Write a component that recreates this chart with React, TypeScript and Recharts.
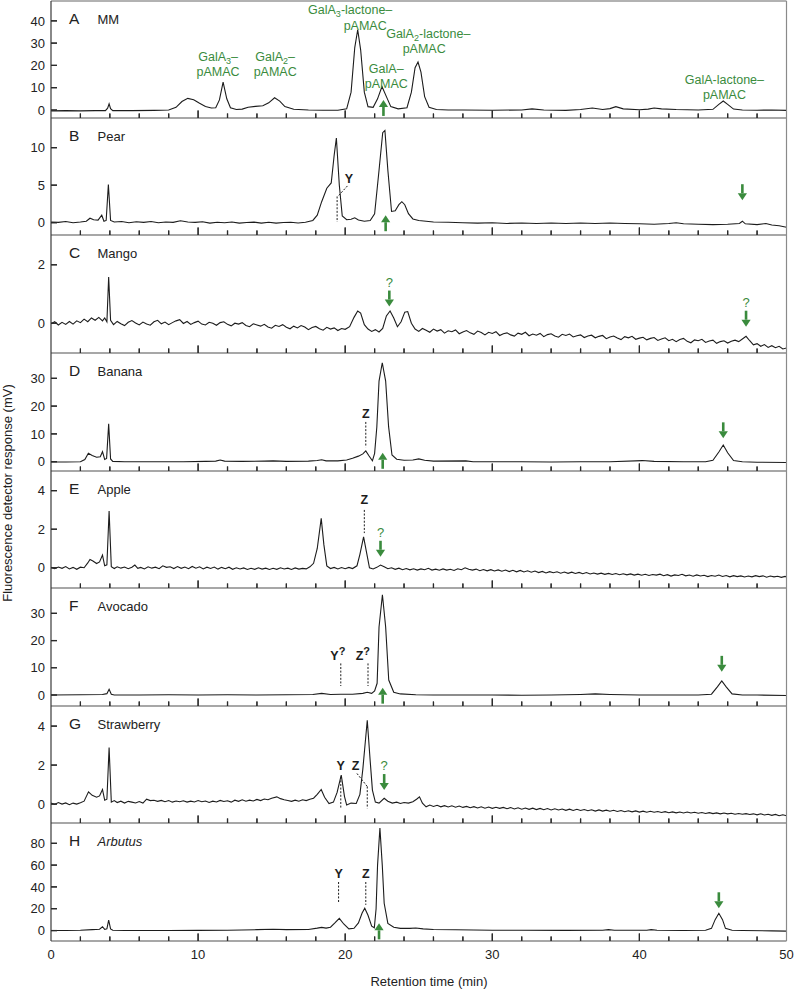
import React from 'react';
import { LineChart, Line, XAxis, YAxis, ReferenceLine, ReferenceDot } from 'recharts';

type Pt = [number, number];
type Arrow = { t: number; v: number; dir: 'up' | 'down'; q?: boolean };
type Mark = { t: number; v: number; text: string; q?: boolean };
type Seg = [number, number, number, number];
type GLabel = { t: number; v: number; main: string; sub?: string; rest?: string };

const timeTicks = [0, 2, 4, 6, 8, 10, 12, 14, 16, 18, 20, 22, 24, 26, 28, 30, 32, 34, 36, 38, 40, 42, 44, 46, 48, 50];
const majorTicks = [10, 20, 30, 40];
const timeLabels = [0, 10, 20, 30, 40, 50];

// A: MM (standards)
const mmTrace: Pt[] = [[0,-0.4],[1,-0.3],[2,-0.4],[3,-0.3],[3.7,-0.3],[3.85,0.8],[3.95,2.8],[4.05,0.6],[4.2,-0.3],[5.5,-0.3],[7,-0.2],[8.0,0],[8.5,1.2],[8.9,3.8],[9.3,5.2],[9.7,4.6],[10.1,3.0],[10.5,1.6],[10.9,0.9],[11.2,1.0],[11.45,4.5],[11.7,12.5],[11.95,5],[12.2,1],[12.6,0.2],[13,0.4],[13.4,1.2],[13.9,1.6],[14.4,1.9],[14.8,3.2],[15.2,5.5],[15.55,4.0],[15.9,1.5],[16.5,0.3],[17.5,0],[18.5,-0.1],[19.5,-0.1],[20.1,0.5],[20.4,8],[20.65,28],[20.85,36],[21.05,27],[21.3,8],[21.55,1.5],[21.9,1.2],[22.2,5],[22.5,10.5],[22.8,6],[23.1,1.5],[23.6,0.5],[24.2,1],[24.5,8],[24.75,19],[24.95,21.5],[25.15,17],[25.4,6],[25.7,1.2],[26.2,0.2],[27,0],[28,0],[30,-0.1],[32,0],[32.7,0.5],[33.5,0],[35,-0.2],[36,0.2],[36.8,0.9],[37.5,0.2],[38,0.6],[38.4,1.5],[38.9,0.5],[40,0.1],[40.6,0.4],[41,0.9],[41.5,0.5],[42.5,0.2],[44,0],[45,0.3],[45.4,2.5],[45.7,4],[46,2.5],[46.4,0.4],[47,0],[48,-0.1],[49,0],[50,-0.2]];

// B: Pear
const pearTrace: Pt[] = [[0,0.1],[0.5,0.05],[1,0.15],[1.5,0.0],[2,0.1],[2.4,0.2],[2.65,0.6],[2.9,0.4],[3.2,0.35],[3.45,1.0],[3.6,0.2],[3.75,0.3],[3.9,5.1],[4.05,0.3],[4.3,0.1],[4.8,0.15],[5.3,0.0],[5.8,0.12],[6.3,0.05],[6.8,0.15],[7.3,0.0],[7.8,0.1],[8.3,0.05],[8.8,0.25],[9.3,0.1],[9.8,0.05],[10.3,0.12],[10.8,-0.05],[11.3,0.05],[11.8,0.0],[12.3,0.1],[12.8,-0.05],[13.3,0.02],[13.8,0.08],[14.3,-0.05],[14.8,0.05],[15.3,-0.05],[15.8,0.02],[16.3,0.06],[16.8,-0.04],[17.3,0.05],[17.8,0.3],[18.1,1.0],[18.4,2.8],[18.75,4.6],[19.05,5.3],[19.25,9],[19.4,11.3],[19.6,5],[19.8,0.9],[20.1,0.4],[20.4,0.45],[20.65,0.65],[20.9,0.35],[21.3,0.2],[21.7,0.3],[22.0,1.2],[22.3,7],[22.55,12],[22.7,12.3],[22.9,7],[23.15,1.5],[23.4,1.6],[23.65,2.4],[23.85,2.8],[24.05,2.4],[24.3,1.2],[24.6,0.5],[25,0.3],[25.5,0.2],[26,0.1],[27,0.05],[28,0.0],[29,-0.05],[30,0.0],[31,-0.1],[32,-0.05],[33,-0.1],[34,-0.05],[35,-0.1],[36,-0.05],[37,-0.1],[38,-0.05],[39,-0.1],[40,-0.15],[41,-0.2],[42,-0.1],[42.5,0.0],[43,-0.15],[44,-0.2],[45,-0.25],[46,-0.2],[46.8,-0.1],[47.0,0.2],[47.2,-0.15],[48,-0.25],[48.6,-0.1],[49,-0.3],[49.5,-0.4],[50,-0.6]];

// C: Mango
const mangoTrace: Pt[] = [[0,-0.02],[0.25,0.05],[0.5,-0.06],[0.75,0.03],[1,-0.04],[1.25,0.06],[1.5,-0.03],[1.75,0.08],[2,0.02],[2.25,0.14],[2.5,0.05],[2.75,0.18],[3,0.1],[3.25,0.2],[3.5,0.08],[3.65,0.18],[3.8,0.05],[3.92,1.58],[4.05,0.1],[4.25,-0.05],[4.5,0.06],[4.75,-0.02],[5,-0.08],[5.25,0.03],[5.5,0.09],[5.75,0.01],[6,-0.06],[6.25,0.04],[6.5,-0.03],[6.75,-0.07],[7,0.05],[7.25,0.1],[7.5,-0.02],[7.75,0.04],[8,-0.05],[8.25,0.02],[8.5,0.08],[8.75,0.12],[9,-0.01],[9.25,0.06],[9.5,-0.04],[9.75,0.02],[10,0.07],[10.25,-0.03],[10.5,-0.06],[10.75,0.03],[11,0],[11.25,-0.07],[11.5,0.02],[11.75,0.05],[12,-0.04],[12.25,-0.09],[12.5,0],[12.75,-0.03],[13,0.02],[13.25,-0.08],[13.5,-0.12],[13.75,-0.02],[14,-0.06],[14.25,-0.1],[14.5,-0.04],[14.75,-0.13],[15,-0.17],[15.25,-0.07],[15.5,-0.11],[15.75,-0.05],[16,-0.14],[16.25,-0.19],[16.5,-0.1],[16.75,-0.16],[17,-0.08],[17.25,-0.13],[17.5,-0.22],[17.75,-0.15],[18,-0.11],[18.25,-0.19],[18.5,-0.24],[18.75,-0.14],[19,-0.2],[19.25,-0.16],[19.5,-0.25],[19.75,-0.18],[20,-0.21],[20.3,-0.12],[20.6,0.2],[20.85,0.42],[21.05,0.35],[21.3,-0.05],[21.55,-0.2],[21.8,-0.28],[22.05,-0.22],[22.3,-0.3],[22.55,-0.18],[22.8,0.25],[23.05,0.42],[23.3,0.18],[23.55,-0.12],[23.8,0.05],[24.05,0.38],[24.25,0.4],[24.5,0],[24.75,-0.2],[25,-0.28],[25.25,-0.18],[25.5,-0.24],[25.75,-0.31],[26,-0.2],[26.25,-0.27],[26.5,-0.22],[26.75,-0.34],[27,-0.26],[27.25,-0.29],[27.5,-0.23],[27.75,-0.36],[28,-0.3],[28.25,-0.25],[28.5,-0.33],[28.75,-0.38],[29,-0.27],[29.25,-0.32],[29.5,-0.4],[29.75,-0.31],[30,-0.35],[30.25,-0.29],[30.5,-0.42],[30.75,-0.36],[31,-0.33],[31.25,-0.4],[31.5,-0.44],[31.75,-0.34],[32,-0.38],[32.25,-0.31],[32.5,-0.43],[32.75,-0.37],[33,-0.41],[33.25,-0.35],[33.5,-0.46],[33.75,-0.39],[34,-0.36],[34.25,-0.44],[34.5,-0.48],[34.75,-0.38],[35,-0.42],[35.25,-0.37],[35.5,-0.47],[35.75,-0.43],[36,-0.4],[36.25,-0.49],[36.5,-0.44],[36.75,-0.41],[37,-0.5],[37.25,-0.45],[37.5,-0.42],[37.75,-0.53],[38,-0.47],[38.25,-0.44],[38.5,-0.51],[38.75,-0.56],[39,-0.46],[39.25,-0.5],[39.5,-0.45],[39.75,-0.55],[40,-0.51],[40.25,-0.48],[40.5,-0.57],[40.75,-0.52],[41,-0.49],[41.25,-0.59],[41.5,-0.54],[41.75,-0.5],[42,-0.6],[42.25,-0.55],[42.5,-0.63],[42.75,-0.56],[43,-0.52],[43.25,-0.62],[43.5,-0.67],[43.75,-0.57],[44,-0.6],[44.25,-0.55],[44.5,-0.66],[44.75,-0.61],[45,-0.58],[45.25,-0.69],[45.5,-0.63],[45.75,-0.6],[46,-0.68],[46.25,-0.62],[46.5,-0.58],[46.75,-0.63],[47,-0.54],[47.25,-0.45],[47.5,-0.6],[47.75,-0.74],[48,-0.7],[48.25,-0.79],[48.5,-0.73],[48.75,-0.83],[49,-0.77],[49.25,-0.84],[49.5,-0.79],[49.75,-0.88],[50,-0.85]];

// D: Banana
const bananaTrace: Pt[] = [[0,-0.1],[1,-0.1],[2,0],[2.3,0.8],[2.54,3.0],[2.8,2.2],[3.1,1.6],[3.35,1.8],[3.5,3.6],[3.65,0.8],[3.78,1.2],[3.92,13.6],[4.05,1.0],[4.2,0.1],[5,0],[7,0],[9,0],[10.5,0.1],[11.2,0.2],[11.5,0.6],[11.8,0.2],[13,0.1],[14.5,0.2],[15.1,0.3],[16,0.1],[17.5,0.2],[18.1,0.4],[18.4,0.7],[18.7,0.3],[19.5,0.3],[20.1,0.6],[20.5,1.2],[20.9,2.0],[21.2,2.8],[21.4,3.9],[21.6,2.2],[21.85,0.3],[22.0,3],[22.15,12.5],[22.3,29],[22.52,35.6],[22.75,29],[22.95,12.6],[23.18,2.4],[23.5,0.9],[24,0.5],[24.6,0.6],[25.0,1.0],[25.4,0.5],[26,0.2],[28.2,0.3],[28.7,0],[30,0],[32,0],[34,-0.1],[36,0],[38,0],[40.2,0.4],[41,0.1],[43,0],[44.5,0],[45.0,0.5],[45.4,3.5],[45.7,6.0],[46.0,3.2],[46.4,0.4],[47,0],[48,-0.2],[50,-0.3]];

// E: Apple
const appleTrace: Pt[] = [[0,0.02],[0.25,-0.05],[0.5,0.04],[0.75,-0.03],[1,0.06],[1.25,-0.06],[1.5,0.02],[1.75,-0.08],[2,0.03],[2.25,0],[2.5,0.25],[2.65,0.43],[2.85,0.35],[3.1,0.22],[3.3,0.3],[3.5,0.66],[3.65,0.1],[3.8,0.15],[3.95,2.95],[4.1,0.05],[4.3,-0.04],[4.5,0.05],[4.75,-0.02],[5,0.04],[5.25,-0.05],[5.5,0.03],[5.7,0.14],[5.9,-0.03],[6.1,0.02],[6.35,-0.06],[6.6,0.05],[6.85,-0.02],[7.1,0.03],[7.35,-0.05],[7.6,0.1],[7.85,0.02],[8.1,0.05],[8.35,-0.04],[8.6,0.06],[8.85,-0.03],[9.1,0.04],[9.35,-0.05],[9.6,0.07],[9.85,-0.02],[10.1,0.05],[10.35,-0.06],[10.6,0.03],[10.85,-0.04],[11.1,0.04],[11.35,-0.07],[11.6,0.02],[11.85,-0.05],[12.1,0.03],[12.35,-0.08],[12.6,0],[12.85,-0.06],[13.1,-0.01],[13.35,-0.09],[13.6,-0.03],[13.85,-0.08],[14.1,0],[14.35,-0.07],[14.6,-0.02],[14.85,-0.09],[15.1,-0.03],[15.35,-0.08],[15.6,0],[15.85,-0.06],[16.1,-0.02],[16.35,-0.09],[16.6,-0.01],[16.85,-0.07],[17.1,-0.03],[17.35,-0.06],[17.6,0.05],[17.85,0.23],[18.1,1.0],[18.37,2.56],[18.55,1.2],[18.75,0.1],[19,-0.04],[19.25,0.02],[19.5,-0.06],[19.75,0.01],[20,-0.05],[20.25,0.02],[20.5,-0.04],[20.8,0.1],[21,0.7],[21.25,1.6],[21.45,0.8],[21.65,0],[21.9,-0.06],[22.15,0.02],[22.4,0.14],[22.65,0.05],[22.9,-0.05],[23.15,0],[23.4,-0.08],[23.65,-0.02],[23.9,-0.1],[24.15,-0.04],[24.4,-0.11],[24.65,-0.05],[24.9,-0.12],[25.15,-0.06],[25.4,-0.1],[25.65,-0.03],[25.9,-0.12],[26.15,-0.07],[26.4,-0.13],[26.65,-0.06],[26.9,-0.12],[27.15,-0.08],[27.4,-0.14],[27.65,-0.05],[27.9,-0.1],[28.15,0],[28.4,-0.08],[28.65,-0.12],[28.9,-0.07],[29.15,-0.15],[29.4,-0.09],[29.65,-0.16],[29.9,-0.1],[30.15,-0.17],[30.4,-0.11],[30.65,-0.18],[30.9,-0.12],[31.15,-0.2],[31.4,-0.13],[31.65,-0.21],[31.9,-0.14],[32.15,-0.22],[32.4,-0.16],[32.65,-0.23],[32.9,-0.17],[33.15,-0.25],[33.4,-0.19],[33.65,-0.27],[33.9,-0.2],[34.15,-0.26],[34.4,-0.21],[34.65,-0.28],[34.9,-0.22],[35.15,-0.29],[35.4,-0.23],[35.65,-0.3],[35.9,-0.24],[36.15,-0.31],[36.4,-0.25],[36.65,-0.32],[36.9,-0.27],[37.15,-0.33],[37.4,-0.28],[37.65,-0.34],[37.9,-0.29],[38.15,-0.35],[38.4,-0.3],[38.65,-0.36],[38.9,-0.31],[39.15,-0.37],[39.4,-0.32],[39.65,-0.38],[39.9,-0.33],[40.15,-0.39],[40.4,-0.34],[40.65,-0.4],[40.9,-0.35],[41.15,-0.38],[41.4,-0.33],[41.65,-0.41],[41.9,-0.36],[42.15,-0.43],[42.4,-0.37],[42.65,-0.4],[42.9,-0.34],[43.15,-0.42],[43.4,-0.38],[43.65,-0.44],[43.9,-0.37],[44.15,-0.43],[44.4,-0.39],[44.65,-0.46],[44.9,-0.4],[45.15,-0.44],[45.4,-0.38],[45.65,-0.45],[45.9,-0.4],[46.15,-0.47],[46.4,-0.41],[46.65,-0.46],[46.9,-0.42],[47.15,-0.48],[47.4,-0.43],[47.65,-0.47],[47.9,-0.41],[48.15,-0.46],[48.4,-0.42],[48.65,-0.49],[48.9,-0.43],[49.15,-0.47],[49.4,-0.44],[49.65,-0.5],[49.9,-0.45],[50,-0.47]];

// F: Avocado
const avocadoTrace: Pt[] = [[0,0],[2,0.1],[3.5,0.2],[3.8,0.5],[3.95,2.1],[4.1,0.3],[4.3,0],[6,0],[8,0.1],[10,0],[12,0.1],[14,0],[16,0.1],[17.8,0.2],[18.4,0.6],[19,0.2],[19.7,0.3],[20.5,0.3],[21.2,0.6],[21.5,1.0],[21.8,0.6],[22.0,1.5],[22.17,4.3],[22.3,25],[22.53,36.8],[22.75,25],[22.96,5.5],[23.3,1.0],[23.75,0.4],[24.8,0.1],[26,0],[28,0],[30,0],[32,-0.1],[34,0],[36,0.2],[37,0.4],[38,0.2],[40,0],[42,0],[44,0],[44.9,0.3],[45.3,3],[45.6,5.2],[45.9,3],[46.3,0.4],[47,0],[48,0],[50,-0.2]];

// G: Strawberry
const strawberryTrace: Pt[] = [[0,0.05],[0.25,-0.02],[0.5,0.08],[0.75,0],[1,0.06],[1.25,-0.03],[1.5,0.05],[1.75,0],[2,0.07],[2.25,0.15],[2.55,0.63],[2.8,0.45],[3.1,0.35],[3.3,0.42],[3.5,0.75],[3.65,0.2],[3.8,0.25],[3.95,2.9],[4.1,0.1],[4.3,0.18],[4.5,0.08],[4.75,0.15],[5,0.05],[5.25,0.14],[5.5,0.1],[5.75,0.06],[6,0.13],[6.25,0.05],[6.5,0.25],[6.75,0.18],[7,0.2],[7.25,0.14],[7.5,0.19],[7.75,0.12],[8,0.18],[8.25,0.1],[8.5,0.16],[8.75,0.12],[9,0.17],[9.25,0.1],[9.5,0.15],[9.75,0.11],[10,0.18],[10.25,0.12],[10.5,0.16],[10.75,0.08],[11,0.15],[11.25,0.11],[11.5,0.19],[11.75,0.13],[12,0.17],[12.25,0.1],[12.5,0.2],[12.75,0.14],[13,0.22],[13.25,0.15],[13.5,0.2],[13.75,0.16],[14,0.24],[14.25,0.18],[14.5,0.26],[14.75,0.22],[15,0.3],[15.35,0.37],[15.6,0.28],[15.85,0.22],[16.1,0.18],[16.35,0.14],[16.6,0.2],[16.85,0.15],[17.1,0.22],[17.35,0.18],[17.6,0.25],[17.85,0.3],[18.1,0.5],[18.37,0.75],[18.6,0.35],[18.9,0.03],[19.2,0.1],[19.45,0.6],[19.73,1.49],[19.95,0.4],[20.1,-0.05],[20.4,0.05],[20.75,0.03],[21,0.5],[21.2,1.8],[21.5,4.3],[21.7,2.2],[21.85,0.72],[22.05,0.1],[22.3,0.05],[22.65,0.3],[22.9,0.15],[23.2,0.05],[23.5,0.1],[23.75,0.03],[24,0.08],[24.3,0.05],[24.6,0.12],[24.85,0.25],[25.05,0.37],[25.25,0.05],[25.5,-0.14],[25.75,-0.05],[26,-0.12],[26.25,-0.06],[26.5,-0.14],[26.75,-0.08],[27,-0.15],[27.25,-0.09],[27.5,-0.16],[27.75,-0.1],[28,-0.17],[28.25,-0.12],[28.5,-0.19],[28.75,-0.13],[29,-0.2],[29.25,-0.14],[29.5,-0.21],[29.75,-0.15],[30,-0.22],[30.25,-0.16],[30.5,-0.22],[30.75,-0.17],[31,-0.24],[31.25,-0.18],[31.5,-0.25],[31.75,-0.19],[32,-0.26],[32.25,-0.2],[32.5,-0.27],[32.75,-0.21],[33,-0.28],[33.25,-0.22],[33.5,-0.29],[33.75,-0.23],[34,-0.3],[34.25,-0.24],[34.5,-0.3],[34.75,-0.25],[35,-0.32],[35.25,-0.26],[35.5,-0.33],[35.75,-0.27],[36,-0.33],[36.25,-0.28],[36.5,-0.34],[36.75,-0.29],[37,-0.36],[37.25,-0.3],[37.5,-0.36],[37.75,-0.31],[38,-0.37],[38.25,-0.32],[38.5,-0.38],[38.75,-0.33],[39,-0.39],[39.25,-0.34],[39.5,-0.4],[39.75,-0.35],[40,-0.41],[40.25,-0.36],[40.5,-0.42],[40.75,-0.37],[41,-0.42],[41.25,-0.38],[41.5,-0.43],[41.75,-0.39],[42,-0.44],[42.25,-0.4],[42.5,-0.45],[42.75,-0.41],[43,-0.46],[43.25,-0.41],[43.5,-0.46],[43.75,-0.42],[44,-0.47],[44.25,-0.43],[44.5,-0.48],[44.75,-0.44],[45,-0.49],[45.25,-0.45],[45.5,-0.5],[45.75,-0.46],[46,-0.5],[46.25,-0.47],[46.5,-0.52],[46.75,-0.48],[47,-0.52],[47.25,-0.49],[47.5,-0.53],[47.75,-0.5],[48,-0.55],[48.25,-0.5],[48.5,-0.56],[48.75,-0.52],[49,-0.58],[49.25,-0.53],[49.5,-0.6],[49.75,-0.55],[50,-0.6]];

// H: Arbutus
const arbutusTrace: Pt[] = [[0,0],[1,0],[2,0.2],[2.8,0.8],[3.3,1.2],[3.5,3.5],[3.65,1.0],[3.8,1.5],[3.92,9.6],[4.05,1.5],[4.2,0.3],[5,0],[8,0],[10,0.1],[12,0.3],[14,0.8],[15.1,1.2],[16,0.8],[17.5,1.0],[18.1,2.2],[18.4,2.9],[18.7,2.2],[19.0,3.0],[19.3,7],[19.6,11.2],[19.9,6],[20.25,1.5],[20.6,2.0],[20.9,7],[21.15,16],[21.33,20.4],[21.55,14],[21.8,4],[21.98,2.5],[22.1,20],[22.2,60],[22.36,94],[22.52,60],[22.65,25],[22.9,6.6],[23.3,3],[23.75,2],[24.4,2],[24.8,2.3],[25.3,1.5],[26,1],[27.5,0.7],[30,0.3],[32,0.2],[35,0.1],[37.5,0.3],[37.9,0.8],[38.3,0.2],[40.5,0.3],[40.8,0.8],[41.2,0.2],[43,0],[44.5,0.3],[44.9,2],[45.15,10],[45.4,15.8],[45.65,10],[45.85,2],[46.3,0.3],[47,0],[49,-0.3],[50,-0.5]];

// Annotations (data coordinates)
const mmLabels: GLabel[] = [
  { t: 11.36, v: 22.0, main: 'GalA', sub: '3', rest: '–' },
  { t: 11.36, v: 15.05, main: 'pAMAC' },
  { t: 15.24, v: 22.0, main: 'GalA', sub: '2', rest: '–' },
  { t: 15.24, v: 15.05, main: 'pAMAC' },
  { t: 20.34, v: 43.0, main: 'GalA', sub: '3', rest: '-lactone–' },
  { t: 21.36, v: 36.05, main: 'pAMAC' },
  { t: 22.79, v: 16.6, main: 'GalA–' },
  { t: 22.79, v: 9.65, main: 'pAMAC' },
  { t: 25.65, v: 32.3, main: 'GalA', sub: '2', rest: '-lactone–' },
  { t: 25.37, v: 25.35, main: 'pAMAC' },
  { t: 45.78, v: 11.7, main: 'GalA-lactone–' },
  { t: 45.78, v: 4.75, main: 'pAMAC' },
];

const mmArrows: Arrow[] = [{ t: 22.6, v: 4.5, dir: 'up' }];
const pearArrows: Arrow[] = [{ t: 22.75, v: 1.0, dir: 'up' }, { t: 47.0, v: 3.0, dir: 'down' }];
const mangoArrows: Arrow[] = [{ t: 23.0, v: 0.57, dir: 'down', q: true }, { t: 47.25, v: -0.12, dir: 'down', q: true }];
const bananaArrows: Arrow[] = [{ t: 22.55, v: 3.2, dir: 'up' }, { t: 45.7, v: 8.4, dir: 'down' }];
const appleArrows: Arrow[] = [{ t: 22.4, v: 0.57, dir: 'down', q: true }];
const avocadoArrows: Arrow[] = [{ t: 22.55, v: 2.7, dir: 'up' }, { t: 45.6, v: 8.5, dir: 'down' }];
const strawberryArrows: Arrow[] = [{ t: 22.65, v: 0.72, dir: 'down', q: true }];
const arbutusArrows: Arrow[] = [{ t: 22.3, v: 6.6, dir: 'up' }, { t: 45.4, v: 20.4, dir: 'down' }];

const pearMarks: Mark[] = [{ t: 20.25, v: 5.3, text: 'Y' }];
const bananaMarks: Mark[] = [{ t: 21.4, v: 15.8, text: 'Z' }];
const appleMarks: Mark[] = [{ t: 21.3, v: 3.3, text: 'Z' }];
const avocadoMarks: Mark[] = [{ t: 19.5, v: 12.9, text: 'Y', q: true }, { t: 21.2, v: 12.9, text: 'Z', q: true }];
const strawberryMarks: Mark[] = [{ t: 19.7, v: 1.75, text: 'Y' }, { t: 20.7, v: 1.75, text: 'Z' }];
const arbutusMarks: Mark[] = [{ t: 19.55, v: 48, text: 'Y' }, { t: 21.4, v: 48, text: 'Z' }];

const pearSegs: Seg[] = [[20.15, 4.9, 19.5, 3.5], [19.45, 3.5, 19.45, 0.1]];
const bananaSegs: Seg[] = [[21.4, 14.3, 21.4, 5.2]];
const appleSegs: Seg[] = [[21.3, 3.0, 21.3, 1.8]];
const avocadoSegs: Seg[] = [[19.7, 11.6, 19.7, 3.3], [21.55, 11.6, 21.55, 3.3]];
const strawberrySegs: Seg[] = [[19.7, 1.4, 19.7, -0.22], [20.8, 1.57, 21.5, 0.9], [21.5, 0.9, 21.5, -0.22]];
const arbutusSegs: Seg[] = [[19.55, 44.5, 19.55, 25], [21.4, 44.5, 21.4, 23.5]];

const GREEN = '#3a8b3d';
const INK = '#1c1c1c';
const TICK = '#2a2a2a';
const FONT = '"Liberation Sans", Arial, Helvetica, sans-serif';

type Panel = {
  letter: string; name: string; italic?: boolean; top: number; bottom: number;
  domain: [number, number]; ticks: number[]; trace: Pt[];
  arrows: Arrow[]; marks: Mark[]; segs: Seg[]; labels: GLabel[];
};

const panels: Panel[] = [
  { letter: 'A', name: 'MM', top: 1, bottom: 118, domain: [-3.6, 48.9], ticks: [0, 10, 20, 30, 40], trace: mmTrace, arrows: mmArrows, marks: [], segs: [], labels: mmLabels },
  { letter: 'B', name: 'Pear', top: 118, bottom: 235, domain: [-1.64, 13.96], ticks: [0, 5, 10], trace: pearTrace, arrows: pearArrows, marks: pearMarks, segs: pearSegs, labels: [] },
  { letter: 'C', name: 'Mango', top: 235, bottom: 353, domain: [-1.02, 3.02], ticks: [0, 2], trace: mangoTrace, arrows: mangoArrows, marks: [], segs: [], labels: [] },
  { letter: 'D', name: 'Banana', top: 353, bottom: 471, domain: [-3.35, 39.1], ticks: [0, 10, 20, 30], trace: bananaTrace, arrows: bananaArrows, marks: bananaMarks, segs: bananaSegs, labels: [] },
  { letter: 'E', name: 'Apple', top: 471, bottom: 588, domain: [-1.05, 5.02], ticks: [0, 2, 4], trace: appleTrace, arrows: appleArrows, marks: appleMarks, segs: appleSegs, labels: [] },
  { letter: 'F', name: 'Avocado', top: 588, bottom: 706, domain: [-4.04, 39.3], ticks: [0, 10, 20, 30], trace: avocadoTrace, arrows: avocadoArrows, marks: avocadoMarks, segs: avocadoSegs, labels: [] },
  { letter: 'G', name: 'Strawberry', top: 706, bottom: 823, domain: [-0.97, 5.03], ticks: [0, 2, 4], trace: strawberryTrace, arrows: strawberryArrows, marks: strawberryMarks, segs: strawberrySegs, labels: [] },
  { letter: 'H', name: 'Arbutus', italic: true, top: 823, bottom: 941, domain: [-9.6, 98.6], ticks: [0, 20, 40, 60, 80], trace: arbutusTrace, arrows: arbutusArrows, marks: arbutusMarks, segs: arbutusSegs, labels: [] },
];

const PAD = 4;
const LAB_H = 30;
const AXIS_H = 2;

// Labels under the last panel only
const timeTick = (withLabels: boolean) => (props: any) => {
  const { x, y, payload } = props;
  const v = payload && payload.value;
  if (!withLabels || timeLabels.indexOf(v) < 0) return <g />;
  return <text x={x} y={y + 17.5} textAnchor="middle" fontSize={13} fill="#222" fontFamily={FONT}>{v}</text>;
};

const valueTick = (props: any) => {
  const { x, y, payload } = props;
  return <text x={x - 6} y={y} dy="0.36em" textAnchor="end" fontSize={13} fill="#222" fontFamily={FONT}>{payload.value}</text>;
};

// Inward tick marks drawn as dots of invisible series, placed through the chart's scales
const xTickDot = (props: any) => {
  const { cx, cy, payload, index } = props;
  if (cx == null || cy == null) return <g key={`xd${index}`} />;
  const len = majorTicks.indexOf(payload.t) >= 0 ? 7.5 : 4.5;
  return <path key={`xd${index}`} d={`M${cx},${cy}V${cy - len}`} stroke={TICK} strokeWidth={1.2} fill="none" />;
};

const yTickDot = (props: any) => {
  const { cx, cy, index } = props;
  if (cx == null || cy == null) return <g key={`yd${index}`} />;
  return <path key={`yd${index}`} d={`M${cx},${cy}H${cx + 6}`} stroke={TICK} strokeWidth={1.2} fill="none" />;
};

const xTickMark = (v: number) => (props: any) => {
  const { cx, cy } = props;
  if (cx == null || cy == null) return <g />;
  const len = majorTicks.indexOf(v) >= 0 ? 7.5 : 4.5;
  return <path d={`M${cx},${cy}V${cy - len}`} stroke={TICK} strokeWidth={1.2} fill="none" />;
};

const yTickMark = (props: any) => {
  const { cx, cy } = props;
  if (cx == null || cy == null) return <g />;
  return <path d={`M${cx},${cy}H${cx + 6}`} stroke={TICK} strokeWidth={1.2} fill="none" />;
};

const arrowShape = (a: Arrow) => (props: any) => {
  const { cx, cy } = props;
  if (cx == null || cy == null) return <g />;
  const s = a.dir === 'down' ? -1 : 1;
  const tail = cy + s * 16;
  const headBase = cy + s * 7;
  return (
    <g>
      <line x1={cx} y1={tail} x2={cx} y2={headBase} stroke={GREEN} strokeWidth={2.6} />
      <polygon points={`${cx - 4.6},${headBase} ${cx + 4.6},${headBase} ${cx},${cy}`} fill={GREEN} />
      {a.q ? (
        <text x={cx} y={tail - 4} textAnchor="middle" fontSize={13} fill={GREEN} fontFamily={FONT}>?</text>
      ) : null}
    </g>
  );
};

const markShape = (m: Mark) => (props: any) => {
  const { cx, cy } = props;
  if (cx == null || cy == null) return <g />;
  return (
    <text x={cx} y={cy} textAnchor="middle" fontSize={12.5} fontWeight="bold" fill={INK} fontFamily={FONT}>
      {m.text}
      {m.q ? <tspan dy={-5} fontSize={11}>?</tspan> : null}
    </text>
  );
};

const labelShape = (l: GLabel) => (props: any) => {
  const { cx, cy } = props;
  if (cx == null || cy == null) return <g />;
  return (
    <text x={cx} y={cy} textAnchor="middle" fontSize={12.5} fill={GREEN} fontFamily={FONT}>
      {l.main}
      {l.sub ? <tspan dy={3} fontSize={9}>{l.sub}</tspan> : null}
      {l.rest ? <tspan dy={l.sub ? -3 : 0}>{l.rest}</tspan> : null}
    </text>
  );
};

function PanelChart({ p, first, last }: { p: Panel; first: boolean; last: boolean }) {
  const h = p.bottom - p.top;
  const rows = p.trace.map(([t, v]) => ({ t, v }));
  const bottomSpace = last ? LAB_H : PAD;
  const chartH = h + PAD + bottomSpace;
  const innerTimes = timeTicks.filter((v) => v > 0 && v < 50);
  const xTickRows = innerTimes.map((t) => ({ t, v: p.domain[0] }));
  const yTickRows = p.ticks.map((v) => ({ t: 0, v }));
  return (
    <div style={{ position: 'absolute', left: 0, top: p.top - PAD, width: 794, height: chartH }}>
      <LineChart width={794} height={chartH} data={rows} margin={{ top: PAD, right: 7.5, bottom: bottomSpace - AXIS_H, left: 0 }} style={{ fontFamily: FONT }}>
        <XAxis xAxisId="x" dataKey="t" type="number" domain={[0, 50]} allowDataOverflow ticks={timeTicks} interval={0} orientation="bottom" height={AXIS_H} tickSize={0} tickMargin={0} tickLine={false} tick={timeTick(last)} axisLine={{ stroke: '#8a8a8a', strokeWidth: 1.6 }} />
        {first ? (
          <XAxis xAxisId="xt" dataKey="t" type="number" domain={[0, 50]} allowDataOverflow ticks={[]} orientation="top" mirror tick={false} tickLine={false} axisLine={{ stroke: '#666', strokeWidth: 1.2 }} />
        ) : null}
        <YAxis yAxisId="v" type="number" domain={p.domain} allowDataOverflow ticks={p.ticks} interval={0} width={51} tickLine={false} tickSize={0} tickMargin={0} axisLine={{ stroke: '#3a3a3a', strokeWidth: 1.2 }} tick={valueTick} />
        <YAxis yAxisId="r" type="number" domain={p.domain} allowDataOverflow orientation="right" mirror ticks={[]} tick={false} tickLine={false} axisLine={{ stroke: '#8a8a8a', strokeWidth: 1.2 }} />
        <Line xAxisId="x" yAxisId="v" data={xTickRows} dataKey="v" type="linear" stroke="none" dot={xTickDot} activeDot={false} isAnimationActive={false} legendType="none" />
        <Line xAxisId="x" yAxisId="v" data={yTickRows} dataKey="v" type="linear" stroke="none" dot={yTickDot} activeDot={false} isAnimationActive={false} legendType="none" />
        {innerTimes.map((v) => (
          <ReferenceDot key={`xt${v}`} xAxisId="x" yAxisId="v" x={v} y={p.domain[0]} r={0} ifOverflow="visible" shape={xTickMark(v)} />
        ))}
        {p.ticks.map((v) => (
          <ReferenceDot key={`yt${v}`} xAxisId="x" yAxisId="v" x={0} y={v} r={0} ifOverflow="visible" shape={yTickMark} />
        ))}
        <Line xAxisId="x" yAxisId="v" dataKey="v" type="linear" dot={false} activeDot={false} stroke={INK} strokeWidth={1.1} isAnimationActive={false} />
        {p.segs.map((s, i) => (
          <ReferenceLine key={`s${i}`} xAxisId="x" yAxisId="v" ifOverflow="visible" segment={[{ x: s[0], y: s[1] }, { x: s[2], y: s[3] }]} stroke={INK} strokeWidth={1} strokeDasharray="2 1.6" />
        ))}
        {p.marks.map((m, i) => (
          <ReferenceDot key={`m${i}`} xAxisId="x" yAxisId="v" x={m.t} y={m.v} r={0} ifOverflow="visible" shape={markShape(m)} />
        ))}
        {p.labels.map((l, i) => (
          <ReferenceDot key={`l${i}`} xAxisId="x" yAxisId="v" x={l.t} y={l.v} r={0} ifOverflow="visible" shape={labelShape(l)} />
        ))}
        {p.arrows.map((a, i) => (
          <ReferenceDot key={`a${i}`} xAxisId="x" yAxisId="v" x={a.t} y={a.v} r={0} ifOverflow="visible" shape={arrowShape(a)} />
        ))}
      </LineChart>
    </div>
  );
}

export default function App() {
  return (
    <div style={{ position: 'absolute', left: 0, top: 0, width: 794, height: 990, background: '#fff', fontFamily: FONT, overflow: 'hidden' }}>
      {panels.map((p, i) => (
        <PanelChart key={p.letter} p={p} first={i === 0} last={i === panels.length - 1} />
      ))}
      <svg width={794} height={990} style={{ position: 'absolute', left: 0, top: 0, pointerEvents: 'none' }}>
        {panels.map((p) => (
          <g key={p.letter} fontFamily={FONT} fill="#222">
            <text x={69} y={p.top + 23} fontSize={15.5}>{p.letter}</text>
            <text x={97.5} y={p.top + 22.5} fontSize={13} fontStyle={p.italic ? 'italic' : 'normal'}>{p.name}</text>
          </g>
        ))}
        <text transform="translate(12,493) rotate(-90)" textAnchor="middle" fontSize={13} fill="#222" fontFamily={FONT}>Fluorescence detector response (mV)</text>
        <text x={429} y={986} textAnchor="middle" fontSize={13} fill="#222" fontFamily={FONT}>Retention time (min)</text>
      </svg>
    </div>
  );
}
